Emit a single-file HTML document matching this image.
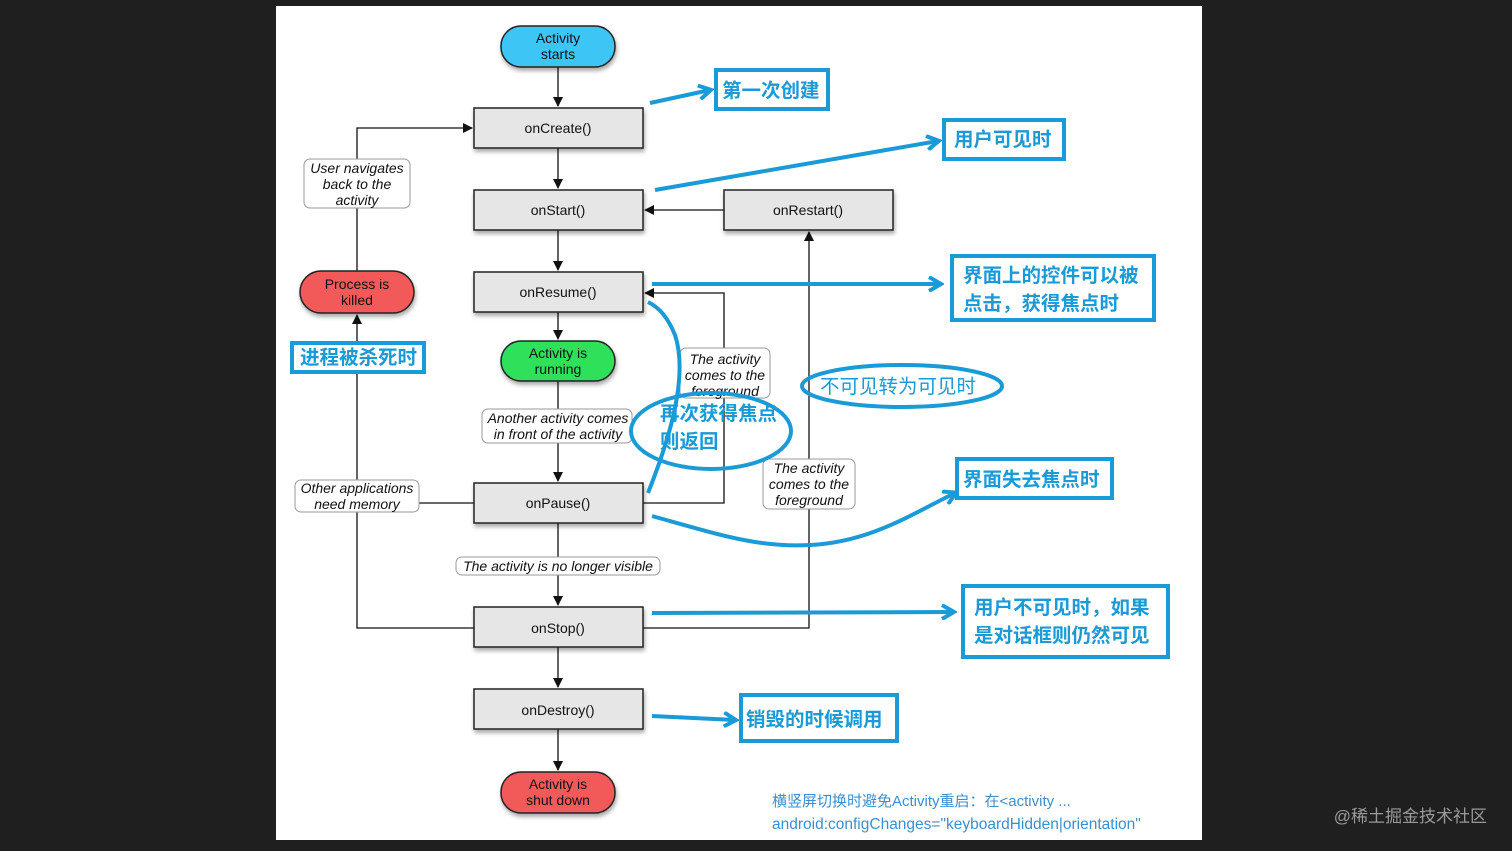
<!DOCTYPE html>
<html><head><meta charset="utf-8"><style>
html,body{margin:0;padding:0;background:#1f1f1f;width:1512px;height:851px;overflow:hidden}
svg{display:block}
text{font-family:"Liberation Sans","Noto Sans CJK SC",sans-serif}
.n{font-size:14px;fill:#111;text-anchor:middle}
.l{font-size:14px;font-style:italic;fill:#111;text-anchor:middle}
.c{font-size:19.5px;fill:#1a9ad6;font-weight:bold}
</style></head><body>
<svg width="1512" height="851" viewBox="0 0 1512 851">
<defs>
<marker id="a" markerWidth="10" markerHeight="10" refX="9" refY="5" orient="auto" markerUnits="userSpaceOnUse"><path d="M0,0L10,5L0,10z" fill="#111"/></marker>
<marker id="b" markerWidth="16" markerHeight="16" refX="12" refY="8" orient="auto" markerUnits="userSpaceOnUse"><path d="M1,1L13,8L1,15" fill="none" stroke="#1a9ad6" stroke-width="4"/></marker>
<filter id="s"><feDropShadow dx="1" dy="3" stdDeviation="2" flood-opacity="0.35"/></filter>
</defs>
<rect x="276" y="6" width="926" height="834" fill="#fff"/>
<g stroke="#111" stroke-width="1.3" fill="none">
<line x1="558" y1="67" x2="558" y2="106" marker-end="url(#a)"/>
<line x1="558" y1="148" x2="558" y2="188" marker-end="url(#a)"/>
<line x1="558" y1="230" x2="558" y2="270" marker-end="url(#a)"/>
<line x1="558" y1="312" x2="558" y2="339" marker-end="url(#a)"/>
<line x1="558" y1="381" x2="558" y2="481" marker-end="url(#a)"/>
<line x1="558" y1="523" x2="558" y2="605" marker-end="url(#a)"/>
<line x1="558" y1="647" x2="558" y2="687" marker-end="url(#a)"/>
<line x1="558" y1="729" x2="558" y2="770" marker-end="url(#a)"/>
<polyline points="357,271 357,128 472,128" marker-end="url(#a)"/>
<polyline points="474,628 357,628 357,315" marker-end="url(#a)"/>
<line x1="474" y1="503" x2="357" y2="503"/>
<polyline points="643,503 724,503 724,293 645,293" marker-end="url(#a)"/>
<polyline points="643,628 809,628 809,232" marker-end="url(#a)"/>
<line x1="724" y1="210" x2="645" y2="210" marker-end="url(#a)"/>
</g>
<g stroke="#222" stroke-width="1.5" filter="url(#s)">
<rect x="501" y="26" width="114" height="41" rx="20" fill="#3cc6f5"/>
<rect x="474" y="108" width="169" height="40" fill="#e6e6e6"/>
<rect x="474" y="190" width="169" height="40" fill="#e6e6e6"/>
<rect x="724" y="190" width="169" height="40" fill="#e6e6e6"/>
<rect x="474" y="272" width="169" height="40" fill="#e6e6e6"/>
<rect x="300" y="271" width="114" height="42" rx="21" fill="#f25a5a"/>
<rect x="501" y="341" width="114" height="40" rx="20" fill="#2fe05a"/>
<rect x="474" y="483" width="169" height="40" fill="#e6e6e6"/>
<rect x="474" y="607" width="169" height="40" fill="#e6e6e6"/>
<rect x="474" y="689" width="169" height="40" fill="#e6e6e6"/>
<rect x="501" y="772" width="114" height="41" rx="20" fill="#f25a5a"/>
</g>
<text class="n" x="558" y="43">Activity</text><text class="n" x="558" y="59">starts</text>
<text class="n" x="558" y="133">onCreate()</text>
<text class="n" x="558" y="215">onStart()</text>
<text class="n" x="808" y="215">onRestart()</text>
<text class="n" x="558" y="297">onResume()</text>
<text class="n" x="357" y="289">Process is</text><text class="n" x="357" y="305">killed</text>
<text class="n" x="558" y="358">Activity is</text><text class="n" x="558" y="374">running</text>
<text class="n" x="558" y="508">onPause()</text>
<text class="n" x="558" y="633">onStop()</text>
<text class="n" x="558" y="715">onDestroy()</text>
<text class="n" x="558" y="789">Activity is</text><text class="n" x="558" y="805">shut down</text>
<g fill="#fff" stroke="#999" stroke-width="1">
<rect x="304" y="159" width="106" height="49" rx="6"/>
<rect x="680" y="348" width="90" height="50" rx="6"/>
<rect x="482" y="409" width="150" height="34" rx="6"/>
<rect x="763" y="459" width="92" height="50" rx="6"/>
<rect x="295" y="480" width="124" height="32" rx="6"/>
<rect x="456" y="557" width="204" height="18" rx="6"/>
</g>
<text class="l" x="357" y="173">User navigates</text><text class="l" x="357" y="189">back to the</text><text class="l" x="357" y="205">activity</text>
<text class="l" x="725" y="364">The activity</text><text class="l" x="725" y="380">comes to the</text><text class="l" x="725" y="396">foreground</text>
<text class="l" x="558" y="423">Another activity comes</text><text class="l" x="558" y="439">in front of the activity</text>
<text class="l" x="809" y="473">The activity</text><text class="l" x="809" y="489">comes to the</text><text class="l" x="809" y="505">foreground</text>
<text class="l" x="357" y="493">Other applications</text><text class="l" x="357" y="509">need memory</text>
<text class="l" x="558" y="571">The activity is no longer visible</text>
<g fill="#fff" stroke="#1a9ad6" stroke-width="4">
<rect x="716" y="70" width="112" height="39"/>
<rect x="944" y="120" width="120" height="39"/>
<rect x="952" y="256" width="202" height="64"/>
<rect x="292" y="343" width="132" height="29"/>
<rect x="957" y="459" width="155" height="39"/>
<rect x="963" y="586" width="205" height="71"/>
<rect x="741" y="695" width="156" height="46"/>
</g>
<g fill="none" stroke="#1a9ad6" stroke-width="4">
<ellipse cx="902" cy="386" rx="100" ry="21"/>
<ellipse cx="711" cy="431" rx="80" ry="38"/>
<line x1="650" y1="103" x2="710" y2="90" marker-end="url(#b)"/>
<line x1="655" y1="190" x2="938" y2="141" marker-end="url(#b)"/>
<line x1="652" y1="284" x2="940" y2="284" marker-end="url(#b)"/>
<path d="M652,516 C720,535 760,548 810,545 C870,542 910,515 955,493" marker-end="url(#b)"/>
<line x1="652" y1="613" x2="953" y2="612" marker-end="url(#b)"/>
<line x1="652" y1="716" x2="735" y2="720" marker-end="url(#b)"/>
<path d="M648,493 C665,450 690,380 675,335 C668,318 660,308 648,302"/>
</g>
<text class="c" x="722" y="97">第一次创建</text>
<text class="c" x="954" y="146">用户可见时</text>
<text class="c" x="963" y="282">界面上的控件可以被</text><text class="c" x="963" y="310">点击，获得焦点时</text>
<text class="c" x="300" y="364">进程被杀死时</text>
<text class="c" x="963" y="486">界面失去焦点时</text>
<text class="c" x="974" y="614">用户不可见时，如果</text><text class="c" x="974" y="642">是对话框则仍然可见</text>
<text class="c" x="746" y="726">销毁的时候调用</text>
<text class="c" x="820" y="393" style="font-weight:normal">不可见转为可见时</text>
<text class="c" x="660" y="420">再次获得焦点</text><text class="c" x="660" y="448">则返回</text>
<text x="772" y="806" font-size="15" fill="#3c8fcf">横竖屏切换时避免Activity重启：在&lt;activity ...</text>
<text x="772" y="829" font-size="15.5" fill="#3c8fcf">android:configChanges="keyboardHidden|orientation"</text>
<text x="1487" y="822" font-size="17" fill="#9a9a9a" text-anchor="end">@稀土掘金技术社区</text>
</svg>
</body></html>
